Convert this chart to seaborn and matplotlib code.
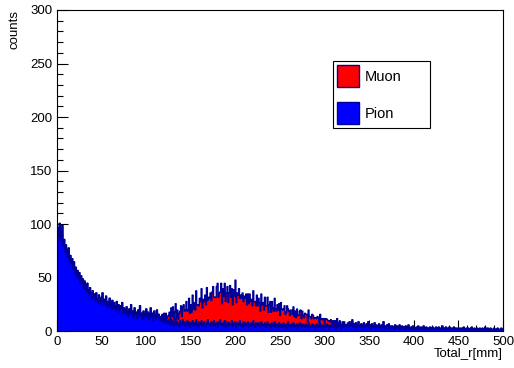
import numpy as np
import pandas as pd
import seaborn as sns
import matplotlib
matplotlib.use("Agg")
import matplotlib.pyplot as plt
from matplotlib.patches import Patch
from matplotlib.ticker import MultipleLocator

# counts per 1 mm bin, Total_r from 0 to 500 mm
pion_counts = [
    97, 88, 101, 85, 93, 99, 80, 86, 74, 81, 76, 69, 78, 66, 71, 63, 68, 59, 65, 54, 60, 51, 57, 49, 55,
    46, 52, 44, 49, 40, 47, 43, 37, 45, 39, 34, 41, 36, 31, 38, 33, 35, 29, 36, 30, 27, 34, 31, 26, 32,
    36, 25, 30, 27, 33, 23, 28, 25, 31, 22, 26, 29, 21, 27, 24, 19, 28, 22, 25, 18, 24, 21, 27, 17, 22,
    20, 16, 23, 18, 14, 21, 17, 25, 15, 19, 13, 22, 16, 18, 12, 20, 15, 24, 14, 17, 11, 19, 16, 13, 21,
    14, 18, 11, 16, 22, 13, 17, 10, 19, 15, 12, 20, 14, 16, 11, 12, 10, 13, 9, 11, 8, 12, 10, 7, 11,
    9, 6, 11, 7, 10, 5, 8, 12, 6, 9, 7, 4, 10, 8, 6, 11, 7, 9, 5, 8, 10, 6, 9, 4, 8,
    7, 10, 5, 8, 6, 11, 7, 4, 9, 6, 8, 10, 5, 7, 9, 6, 4, 8, 11, 6, 7, 5, 9, 8, 6,
    10, 5, 7, 8, 4, 9, 6, 11, 7, 5, 8, 6, 10, 4, 7, 9, 5, 8, 6, 7, 10, 5, 8, 6, 9,
    4, 7, 8, 5, 10, 6, 7, 4, 9, 6, 8, 5, 7, 9, 4, 6, 8, 5, 7, 10, 6, 4, 8, 7, 5,
    8, 6, 4, 9, 7, 5, 6, 8, 4, 7, 9, 5, 6, 7, 3, 8, 6, 5, 9, 4, 7, 6, 5, 8, 4,
    6, 7, 4, 8, 5, 6, 3, 7, 9, 5, 6, 4, 7, 5, 8, 4, 6, 5, 7, 3, 6, 8, 5, 4, 7,
    5, 6, 4, 7, 5, 3, 8, 6, 4, 5, 7, 4, 6, 5, 3, 7, 5, 6, 4, 8, 5, 3, 6, 5, 4,
    6, 4, 7, 5, 3, 6, 5, 4, 8, 5, 4, 6, 3, 7, 5, 4, 6, 5, 3, 7, 4, 6, 5, 4, 6,
    7, 4, 9, 5, 6, 10, 4, 7, 5, 8, 3, 6, 9, 5, 4, 7, 6, 3, 8, 5, 4, 7, 5, 9, 4,
    6, 3, 7, 5, 4, 8, 3, 6, 5, 4, 7, 3, 5, 6, 4, 9, 3, 5, 4, 6, 3, 7, 4, 5, 3,
    5, 4, 2, 6, 3, 5, 4, 3, 6, 2, 4, 5, 3, 4, 2, 5, 3, 4, 6, 2, 3, 4, 2, 5, 3,
    3, 2, 4, 3, 5, 2, 3, 4, 2, 3, 5, 2, 3, 4, 2, 3, 2, 4, 3, 2, 4, 3, 2, 3, 4,
    2, 3, 4, 2, 3, 2, 5, 3, 2, 3, 4, 2, 3, 2, 4, 3, 2, 3, 2, 4, 2, 3, 3, 2, 3,
    2, 3, 1, 3, 2, 4, 2, 1, 3, 2, 3, 2, 1, 3, 4, 2, 1, 3, 2, 2, 3, 1, 2, 3, 2,
    1, 3, 2, 2, 4, 1, 2, 3, 2, 1, 3, 2, 2, 1, 3, 2, 1, 2, 3, 2, 1, 2, 3, 1, 2,
]

# muon counts start at bin 115 (zero elsewhere)
muon_start = 115
muon_counts = [
    2, 4, 3, 1, 6, 3, 5, 2, 7, 4, 9, 5, 11, 7, 13, 6, 10, 14, 7, 11, 4, 13, 9, 16, 8,
    12, 18, 10, 15, 20, 9, 14, 22, 13, 17, 11, 24, 16, 19, 14, 27, 18, 21, 15, 25, 20, 30, 17, 23, 19,
    28, 21, 33, 18, 26, 24, 31, 20, 29, 36, 22, 27, 25, 34, 41, 23, 30, 26, 38, 21, 32, 27, 35, 24, 29,
    33, 22, 28, 37, 25, 30, 20, 31, 27, 39, 23, 29, 26, 35, 21, 28, 24, 32, 19, 27, 23, 30, 18, 26, 22,
    29, 20, 25, 17, 28, 22, 24, 16, 27, 19, 23, 21, 15, 26, 18, 22, 14, 24, 20, 17, 23, 13, 19, 21, 15,
    20, 16, 14, 22, 17, 12, 19, 15, 18, 11, 21, 14, 16, 13, 19, 10, 15, 17, 12, 14, 9, 16, 13, 11, 15,
    10, 13, 8, 14, 12, 9, 11, 15, 8, 12, 10, 7, 13, 9, 11, 6, 12, 8, 10, 7, 9, 11, 6, 8, 10,
    5, 9, 7, 4, 8, 6, 9, 5, 7, 3, 6, 8, 4, 5, 7, 3, 6, 4, 2, 5, 3, 4, 2, 5, 3,
    2, 4, 1, 3, 2, 0, 3, 1, 2, 0, 1, 2, 0, 1, 0, 1, 0, 0, 1, 0,
]

assert len(pion_counts) == 500

centers = np.arange(500) + 0.5
muon = np.zeros(500)
muon[muon_start:muon_start + len(muon_counts)] = muon_counts
pion = np.array(pion_counts, dtype=float)

df = pd.DataFrame({"r": centers, "pion": pion, "stack": pion + muon})

sns.set_theme(style="ticks")
plt.rcParams['font.family'] = ['Liberation Sans', 'DejaVu Sans']
plt.rcParams['text.color'] = 'black'
plt.rcParams['xtick.color'] = 'black'
plt.rcParams['ytick.color'] = 'black'
plt.rcParams['axes.labelcolor'] = 'black'

fig = plt.figure(figsize=(5.14, 3.68), dpi=100)
ax = fig.add_axes([57 / 514, 1 - 331 / 368, 446 / 514, 321 / 368])

edge = "#000099"
# THStack style: total (muon on top) first, then pion over it
sns.histplot(data=df, x="r", weights="stack", binwidth=1, binrange=(0, 500), element="step",
             fill=True, color="#ff0000", alpha=1, edgecolor=edge, linewidth=1.0, ax=ax)
sns.histplot(data=df, x="r", weights="pion", binwidth=1, binrange=(0, 500), element="step",
             fill=True, color="#0000ff", alpha=1, edgecolor=edge, linewidth=1.0, ax=ax)

ax.set_xlim(0, 500)
ax.set_ylim(0, 300)
ax.set_xlabel("")
ax.set_ylabel("")
ax.xaxis.set_major_locator(MultipleLocator(50))
ax.xaxis.set_minor_locator(MultipleLocator(10))
ax.yaxis.set_major_locator(MultipleLocator(50))
ax.yaxis.set_minor_locator(MultipleLocator(10))
ax.tick_params(which='both', direction='in', labelsize=9.5, color='black', top=False, right=False)
ax.tick_params(which='major', length=8, width=0.8)
ax.tick_params(which='minor', length=4, width=0.8)
for s in ax.spines.values():
    s.set_visible(True)
    s.set_color('black')
    s.set_linewidth(0.8)

fig.text(15 / 514, 1 - 10 / 368, "counts", rotation=90, ha='center', va='top', fontsize=9.5)
fig.text(503 / 514, 1 - 354 / 368, "Total_r[mm]", ha='right', va='center', fontsize=9.5)

handles = [Patch(facecolor="#ff0000", edgecolor=edge, label="Muon"),
           Patch(facecolor="#0000ff", edgecolor=edge, label="Pion")]
x0 = (333 - 57) / 446
y0 = (331 - 128) / 321
leg = ax.legend(handles=handles, loc='lower left',
                bbox_to_anchor=(x0, y0, (430 - 333) / 446, (128 - 43) / 321),
                mode='expand', fancybox=False, framealpha=1, edgecolor='black',
                fontsize=10.5, handlelength=1.5, handleheight=2.0, labelspacing=1.0,
                borderpad=0.25, handletextpad=0.4, borderaxespad=0)
leg.get_frame().set_linewidth(0.8)

fig.savefig("out.png", dpi=100)
